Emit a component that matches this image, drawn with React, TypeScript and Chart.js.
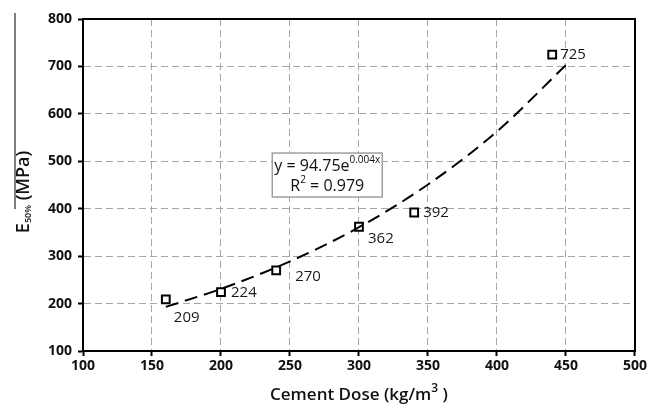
import React, { useEffect, useRef } from "react";
import { Chart, registerables } from "chart.js";

Chart.register(...registerables);

// Measured data (cement dose vs E50%)
const cementDose = [160, 200, 240, 300, 340, 440];
const e50Values = [209, 224, 270, 362, 392, 725];
const pointLabels = ["209", "224", "270", "362", "392", "725"];

// Trendline points
const trendX = [160, 200, 250, 300, 350, 400, 450];
const trendY = [193, 231, 289, 361, 451, 563, 703];

const xTicks = [100, 150, 200, 250, 300, 350, 400, 450, 500];
const yTicks = [100, 200, 300, 400, 500, 600, 700, 800];

const equationLine1 = "y = 94.75e";
const equationSup1 = "0.004x";
const equationLine2a = "R";
const equationSup2 = "2";
const equationLine2b = " = 0.979";

const xTitleMain = "Cement Dose (kg/m";
const xTitleSup = "3";
const xTitleEnd = " )";
const yTitleMain = "E";
const yTitleSub = "50%";
const yTitleEnd = " (MPa)";

const FONT = "'Open Sans', sans-serif";

// label offsets relative to the marker (px)
const labelOffsets = [
  { dx: 8, dy: 18 },
  { dx: 10, dy: 1 },
  { dx: 19, dy: 6 },
  { dx: 9, dy: 12 },
  { dx: 9, dy: 0 },
  { dx: 8, dy: 0 },
];

const decorPlugin = {
  id: "decor",
  beforeDatasetsDraw(chart: any) {
    const { ctx, chartArea } = chart;
    ctx.save();
    ctx.strokeStyle = "#000";
    ctx.lineWidth = 2;
    ctx.setLineDash([]);
    ctx.strokeRect(chartArea.left, chartArea.top, chartArea.right - chartArea.left, chartArea.bottom - chartArea.top);
    ctx.restore();
  },
  afterDatasetsDraw(chart: any) {
    const { ctx, chartArea } = chart;
    const meta = chart.getDatasetMeta(1);
    ctx.save();
    ctx.fillStyle = "#1a1a1a";
    ctx.font = `15px ${FONT}`;
    ctx.textBaseline = "middle";
    ctx.textAlign = "left";
    meta.data.forEach((el: any, i: number) => {
      const o = labelOffsets[i];
      ctx.fillText(pointLabels[i], el.x + o.dx, el.y + o.dy);
    });
    ctx.restore();

    // equation box
    const xs = chart.scales.x;
    const ys = chart.scales.y;
    const cx = xs.getPixelForValue(277);
    const cy = ys.getPixelForValue(471);
    const bw = 110;
    const bh = 44;
    ctx.save();
    ctx.fillStyle = "#fff";
    ctx.fillRect(cx - bw / 2, cy - bh / 2, bw, bh);
    ctx.strokeStyle = "#a0a0a0";
    ctx.lineWidth = 1.5;
    ctx.strokeRect(cx - bw / 2, cy - bh / 2, bw, bh);
    ctx.fillStyle = "#111";
    ctx.textBaseline = "middle";
    ctx.textAlign = "left";
    ctx.font = `16px ${FONT}`;
    const w1 = ctx.measureText(equationLine1).width;
    ctx.font = `10px ${FONT}`;
    const ws1 = ctx.measureText(equationSup1).width;
    const l1x = cx - (w1 + ws1) / 2;
    ctx.font = `16px ${FONT}`;
    ctx.fillText(equationLine1, l1x, cy - 9);
    ctx.font = `10px ${FONT}`;
    ctx.fillText(equationSup1, l1x + w1, cy - 15);
    ctx.font = `16px ${FONT}`;
    const wa = ctx.measureText(equationLine2a).width;
    const wb = ctx.measureText(equationLine2b).width;
    ctx.font = `10px ${FONT}`;
    const ws2 = ctx.measureText(equationSup2).width;
    const l2x = cx - (wa + ws2 + wb) / 2;
    ctx.font = `16px ${FONT}`;
    ctx.fillText(equationLine2a, l2x, cy + 11);
    ctx.font = `10px ${FONT}`;
    ctx.fillText(equationSup2, l2x + wa, cy + 5);
    ctx.font = `16px ${FONT}`;
    ctx.fillText(equationLine2b, l2x + wa + ws2, cy + 11);
    ctx.restore();

    // x title
    ctx.save();
    ctx.fillStyle = "#111";
    ctx.textBaseline = "middle";
    ctx.textAlign = "left";
    const tcx = (chartArea.left + chartArea.right) / 2;
    const tcy = 395;
    ctx.font = `600 17px ${FONT}`;
    const tw1 = ctx.measureText(xTitleMain).width;
    const tw3 = ctx.measureText(xTitleEnd).width;
    ctx.font = `600 12px ${FONT}`;
    const tw2 = ctx.measureText(xTitleSup).width;
    const tx = tcx - (tw1 + tw2 + tw3) / 2;
    ctx.font = `600 17px ${FONT}`;
    ctx.fillText(xTitleMain, tx, tcy);
    ctx.font = `600 12px ${FONT}`;
    ctx.fillText(xTitleSup, tx + tw1, tcy - 6);
    ctx.font = `600 17px ${FONT}`;
    ctx.fillText(xTitleEnd, tx + tw1 + tw2, tcy);
    ctx.restore();

    // y title (rotated)
    ctx.save();
    ctx.translate(24, 192);
    ctx.rotate(-Math.PI / 2);
    ctx.fillStyle = "#111";
    ctx.textBaseline = "middle";
    ctx.textAlign = "left";
    ctx.font = `600 18px ${FONT}`;
    const yw1 = ctx.measureText(yTitleMain).width;
    const yw3 = ctx.measureText(yTitleEnd).width;
    ctx.font = `600 9px ${FONT}`;
    const yw2 = ctx.measureText(yTitleSub).width;
    const ty = -(yw1 + yw2 + yw3) / 2;
    ctx.font = `600 18px ${FONT}`;
    ctx.fillText(yTitleMain, ty, 0);
    ctx.font = `600 9px ${FONT}`;
    ctx.fillText(yTitleSub, ty + yw1, 4);
    ctx.font = `600 18px ${FONT}`;
    ctx.fillText(yTitleEnd, ty + yw1 + yw2, 0);
    ctx.restore();

    // overline at the left
    ctx.save();
    ctx.strokeStyle = "#555";
    ctx.lineWidth = 1.5;
    ctx.beginPath();
    ctx.moveTo(15, 13);
    ctx.lineTo(15, 209);
    ctx.stroke();
    ctx.restore();
  },
};

export default function App() {
  const ref = useRef<HTMLCanvasElement | null>(null);
  useEffect(() => {
    document.body.style.margin = "0";
    const canvas = ref.current;
    if (!canvas) return;
    const gridColor = (c: any, lo: number, hi: number) =>
      c.tick && (c.tick.value === lo || c.tick.value === hi) ? "rgba(0,0,0,0)" : "#a6a6a6";
    const chart = new Chart(canvas, {
      type: "scatter",
      data: {
        datasets: [
          {
            type: "line",
            data: trendX.map((x, i) => ({ x, y: trendY[i] })),
            borderColor: "#000",
            borderWidth: 2,
            borderDash: [13, 7],
            pointRadius: 0,
            cubicInterpolationMode: "monotone",
            fill: false,
          } as any,
          {
            type: "scatter",
            data: cementDose.map((x, i) => ({ x, y: e50Values[i] })),
            pointStyle: "rect",
            pointRadius: 5.5,
            pointBorderWidth: 2,
            pointBackgroundColor: "#fff",
            pointBorderColor: "#000",
          } as any,
        ],
      },
      options: {
        animation: false,
        responsive: false,
        devicePixelRatio: 1,
        layout: { padding: { left: 40, right: 13, top: 19, bottom: 0 } },
        plugins: { legend: { display: false }, tooltip: { enabled: false } },
        scales: {
          x: {
            type: "linear",
            min: xTicks[0],
            max: xTicks[xTicks.length - 1],
            afterBuildTicks: (s: any) => {
              s.ticks = xTicks.map((v) => ({ value: v }));
            },
            afterFit: (s: any) => {
              s.height = 55;
            },
            ticks: {
              font: { family: FONT, size: 14, weight: "bold" },
              color: "#111",
              padding: 2,
              maxRotation: 0,
            },
            grid: {
              color: (c: any) => gridColor(c, 100, 500),
              lineWidth: 1,
              tickColor: "#000",
              tickWidth: 2,
              tickLength: 5,
              tickBorderDash: [],
            },
            border: { color: "#000", width: 2, dash: [7, 4] },
          },
          y: {
            type: "linear",
            min: yTicks[0],
            max: yTicks[yTicks.length - 1],
            afterBuildTicks: (s: any) => {
              s.ticks = yTicks.map((v) => ({ value: v }));
            },
            afterFit: (s: any) => {
              s.width = 43;
            },
            ticks: {
              font: { family: FONT, size: 14, weight: "bold" },
              color: "#111",
              padding: 6,
            },
            grid: {
              color: (c: any) => gridColor(c, 100, 800),
              lineWidth: 1,
              tickColor: "#000",
              tickWidth: 2,
              tickLength: 5,
              tickBorderDash: [],
            },
            border: { color: "#000", width: 2, dash: [7, 4] },
          },
        },
      } as any,
      plugins: [decorPlugin],
    });
    return () => chart.destroy();
  }, []);
  return <canvas ref={ref} width={649} height={406} style={{ display: "block" }} />;
}
